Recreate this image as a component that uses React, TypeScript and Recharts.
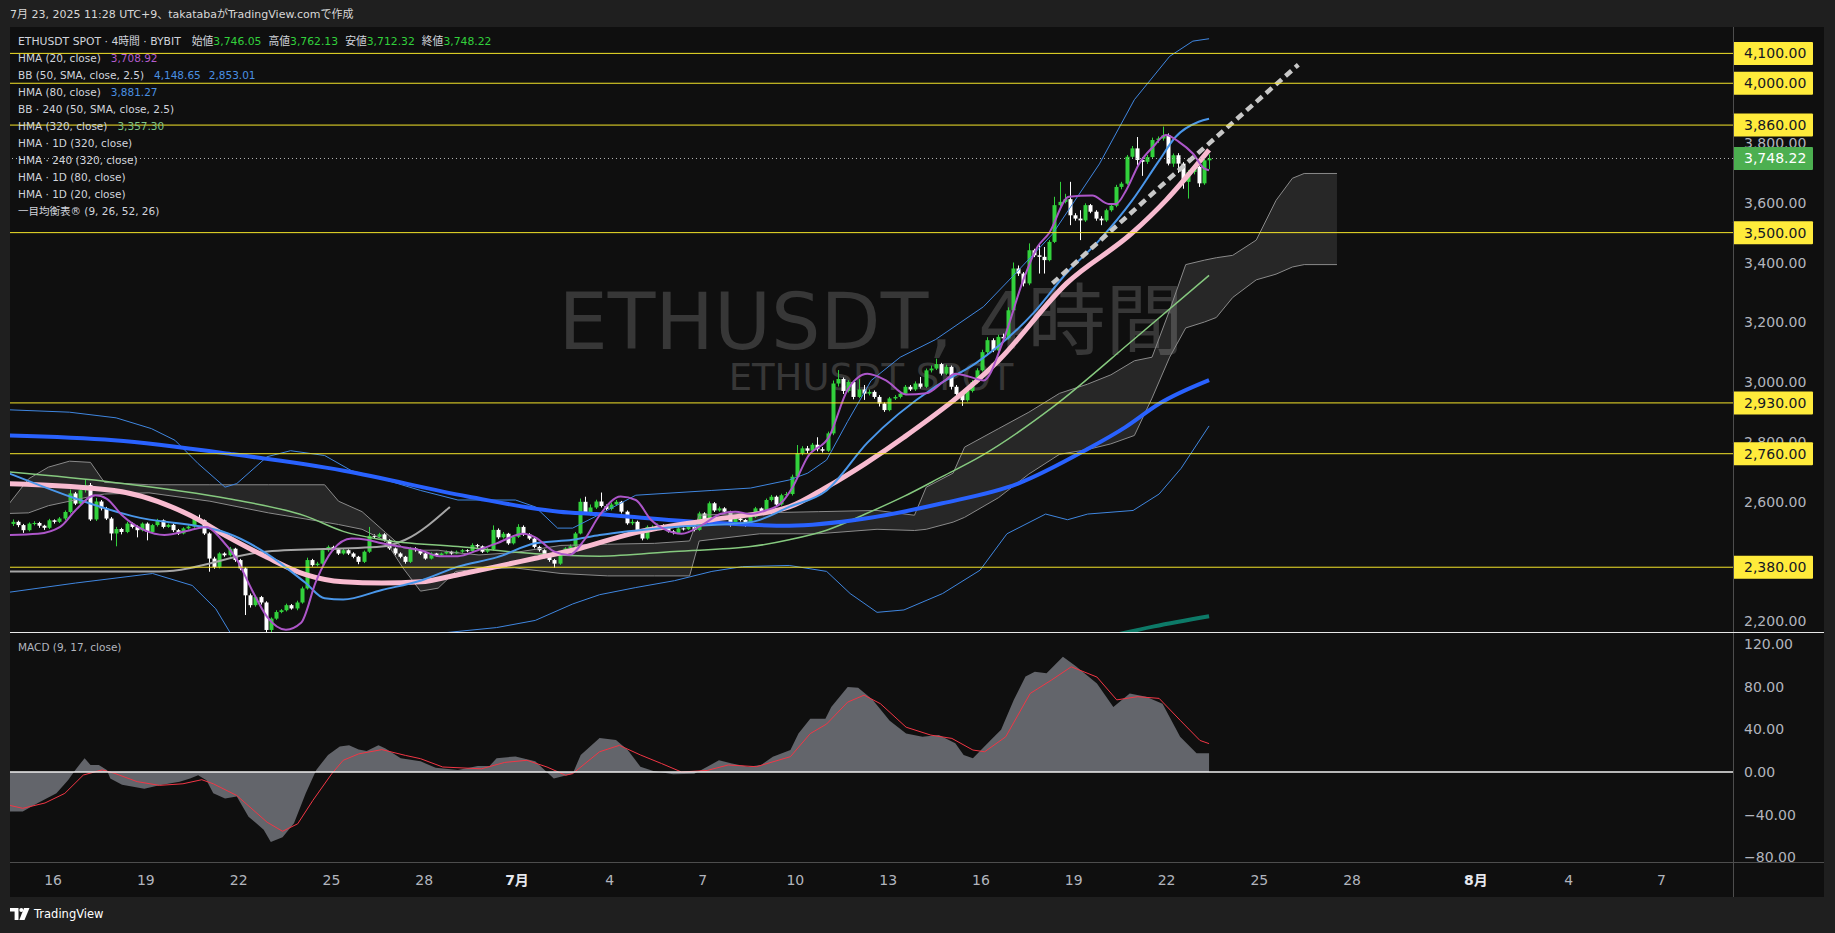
import React from "react"
import { Area, Bar, ComposedChart, Line, ReferenceLine, XAxis, YAxis } from "recharts"

const FONT = '"DejaVu Sans", "Noto Sans CJK JP", sans-serif'
const UP = "#32d13c"
const DOWN = "#ffffff"

// x is time in days from Jun 1 2025 (JST): Jun 16 = 15, Jul 1 = 30, Aug 1 = 61
const X_DOMAIN: [number, number] = [13.608, 69.314]
const PRICE_DOMAIN: [number, number] = [2163.2, 4188.3]
const MACD_DOMAIN: [number, number] = [-84.3, 131.2]

const dayTicks = [15, 18, 21, 24, 27, 30, 33, 36, 39, 42, 45, 48, 51, 54, 57, 61, 64, 67]
const dayLabels = ["16", "19", "22", "25", "28", "7月", "4", "7", "10", "13", "16", "19", "22", "25", "28", "8月", "4", "7"]
const priceTicks = [2200, 2400, 2600, 2800, 3000, 3200, 3400, 3600, 3800]
const macdTicks = [-80, -40, 0, 40, 80, 120]
const levels = [4100, 4000, 3860, 3500, 2930, 2760, 2380]
const lastPrice = 3748.22

// 4h candles, first bar Jun 14 17:00 JST, six bars a day
const firstBar = 13.708
const firstOpen = 2525
const closes = [
  2532, 2521,
  2504, 2526, 2528, 2519, 2512, 2537,
  2532, 2543, 2565, 2627, 2593, 2638,
  2655, 2540, 2600, 2577, 2543, 2493,
  2508, 2498, 2526, 2515, 2504, 2526,
  2498, 2521, 2537, 2515, 2522, 2504,
  2493, 2510, 2516, 2543, 2537, 2493,
  2409, 2381, 2426, 2420, 2442, 2404,
  2376, 2286, 2253, 2280, 2262, 2170,
  2208, 2230, 2236, 2253, 2242, 2262,
  2309, 2404, 2387, 2392, 2437, 2448,
  2440, 2426, 2437, 2426, 2415, 2398,
  2432, 2485, 2482, 2490, 2471, 2443,
  2426, 2415, 2398, 2443, 2437, 2426,
  2409, 2426, 2420, 2426, 2432, 2426,
  2432, 2437, 2434, 2454, 2450, 2432,
  2440, 2505, 2480, 2492, 2460, 2482,
  2515, 2490, 2476, 2448, 2437, 2415,
  2404, 2392, 2426, 2443, 2450, 2493,
  2599, 2560, 2580, 2600, 2585, 2575,
  2590, 2599, 2566, 2527, 2532, 2499,
  2476, 2515, 2515, 2520, 2510, 2500,
  2495, 2510, 2507, 2515, 2505, 2560,
  2540, 2594, 2570, 2577, 2566, 2521,
  2543, 2538, 2521, 2549, 2577, 2566,
  2605, 2616, 2590, 2621, 2625, 2683,
  2761, 2778, 2770, 2790, 2775, 2770,
  2828, 2995, 3010, 2970, 3000, 2950,
  2975, 2961, 2967, 2950, 2928, 2906,
  2945, 2950, 2961, 2984, 2975, 2995,
  2984, 3039, 3045, 3060, 3028, 3051,
  2984, 2960, 2939, 2970, 3000, 3039,
  3100, 3140, 3106, 3151, 3146, 3240,
  3380, 3363, 3330, 3441, 3424, 3419,
  3408, 3469, 3592, 3603, 3612, 3558,
  3547, 3541, 3592, 3570, 3547, 3541,
  3575, 3590, 3653, 3664, 3754, 3782,
  3743, 3737, 3753, 3810, 3815, 3826,
  3731, 3759, 3731, 3670, 3703, 3720,
  3665, 3742, 3748.22,
]
const highs = [
  2540, 2536,
  2525, 2530, 2534, 2532, 2522, 2542,
  2540, 2548, 2570, 2640, 2632, 2650,
  2675, 2662, 2612, 2605, 2582, 2548,
  2515, 2512, 2532, 2530, 2520, 2530,
  2530, 2525, 2542, 2540, 2526, 2526,
  2508, 2514, 2520, 2548, 2556, 2540,
  2497, 2415, 2430, 2430, 2448, 2445,
  2408, 2380, 2292, 2285, 2284, 2266,
  2212, 2236, 2240, 2258, 2257, 2268,
  2315, 2412, 2408, 2398, 2442, 2453,
  2452, 2444, 2442, 2440, 2430, 2418,
  2436, 2515, 2490, 2495, 2494, 2474,
  2446, 2430, 2418, 2448, 2447, 2440,
  2430, 2430, 2428, 2429, 2436, 2435,
  2436, 2441, 2440, 2460, 2458, 2453,
  2444, 2520, 2510, 2498, 2495, 2486,
  2524, 2520, 2494, 2480, 2452, 2440,
  2419, 2408, 2430, 2447, 2456, 2498,
  2610, 2616, 2590, 2606, 2630, 2590,
  2596, 2605, 2602, 2570, 2540, 2536,
  2502, 2520, 2520, 2526, 2524, 2514,
  2504, 2514, 2513, 2519, 2518, 2566,
  2564, 2600, 2598, 2583, 2581, 2569,
  2548, 2547, 2541, 2553, 2582, 2580,
  2610, 2622, 2620, 2626, 2632, 2690,
  2789, 2785, 2786, 2796, 2815, 2782,
  2834, 3005, 3040, 3015, 3006, 3004,
  3010, 2990, 2975, 2972, 2956, 2932,
  2950, 2956, 2966, 2990, 2990, 3002,
  3017, 3045, 3055, 3078, 3064, 3058,
  3055, 2990, 2966, 2976, 3006, 3046,
  3108, 3150, 3146, 3158, 3162, 3250,
  3400, 3390, 3368, 3464, 3446, 3464,
  3452, 3475, 3620, 3670, 3630, 3670,
  3565, 3575, 3598, 3596, 3575, 3555,
  3580, 3596, 3660, 3670, 3760, 3790,
  3820, 3752, 3760, 3818, 3822, 3855,
  3832, 3765, 3766, 3736, 3710, 3726,
  3724, 3760, 3762.13,
]
const lows = [
  2518, 2514,
  2495, 2500, 2520, 2512, 2505, 2508,
  2526, 2528, 2538, 2560, 2588, 2590,
  2630, 2535, 2535, 2570, 2538, 2470,
  2450, 2490, 2494, 2510, 2480, 2500,
  2470, 2494, 2516, 2510, 2512, 2498,
  2488, 2490, 2506, 2512, 2532, 2488,
  2365, 2375, 2376, 2415, 2416, 2398,
  2370, 2220, 2245, 2248, 2255, 2140,
  2160, 2204, 2226, 2232, 2238, 2236,
  2258, 2305, 2382, 2383, 2388, 2432,
  2436, 2421, 2422, 2421, 2410, 2390,
  2394, 2428, 2476, 2478, 2466, 2438,
  2420, 2410, 2392, 2394, 2432, 2421,
  2405, 2406, 2416, 2417, 2423, 2422,
  2424, 2428, 2430, 2431, 2445, 2428,
  2428, 2436, 2474, 2476, 2455, 2456,
  2478, 2485, 2471, 2443, 2432, 2410,
  2398, 2378, 2388, 2420, 2438, 2446,
  2490, 2555, 2552, 2575, 2580, 2570,
  2570, 2585, 2560, 2522, 2521, 2494,
  2470, 2472, 2510, 2512, 2506, 2496,
  2490, 2492, 2503, 2504, 2500, 2502,
  2535, 2536, 2565, 2566, 2561, 2516,
  2518, 2533, 2516, 2518, 2545, 2561,
  2562, 2600, 2585, 2586, 2615, 2620,
  2678, 2755, 2762, 2766, 2768, 2764,
  2766, 2822, 2985, 2960, 2965, 2942,
  2946, 2940, 2955, 2944, 2918, 2900,
  2902, 2940, 2945, 2956, 2970, 2970,
  2978, 2980, 3032, 3040, 3022, 3024,
  2975, 2950, 2920, 2934, 2965, 2995,
  3035, 3094, 3100, 3102, 3140, 3142,
  3235, 3355, 3320, 3324, 3418, 3363,
  3363, 3404, 3465, 3588, 3598, 3525,
  3540, 3475, 3536, 3565, 3540, 3525,
  3536, 3570, 3585, 3645, 3660, 3748,
  3726, 3690, 3730, 3748, 3800, 3808,
  3725, 3720, 3700, 3647, 3614, 3695,
  3653, 3660, 3712.32,
]

type Pt = [number, number]

const hma20: Pt[] = [
  [13.56, 2488], [14.51, 2492], [15.23, 2515], [15.72, 2570], [16.36, 2621], [16.74, 2609], [17.23, 2554],
  [17.95, 2504], [18.6, 2488], [19.43, 2504], [19.96, 2515], [20.45, 2472], [20.94, 2406], [21.43, 2304],
  [21.92, 2214], [22.53, 2171], [23.02, 2194], [23.51, 2335], [24.04, 2437], [24.65, 2476], [25.14, 2472],
  [25.63, 2460], [26.24, 2449], [26.88, 2437], [27.49, 2417], [28.09, 2417], [28.73, 2437], [29.34, 2460],
  [30.21, 2492], [30.59, 2480], [31.19, 2433], [31.69, 2421], [32.18, 2472], [32.67, 2554], [33.35, 2617],
  [33.84, 2605], [34.33, 2539], [34.83, 2504], [35.32, 2492], [36.07, 2527], [36.57, 2558], [37.06, 2566],
  [37.55, 2558], [38.04, 2570], [38.53, 2594], [38.91, 2648], [39.4, 2750], [40.09, 2817], [40.69, 2974],
  [41.33, 3028], [41.94, 3005], [42.58, 2958], [43.23, 2962], [43.83, 3005], [44.17, 3028], [44.78, 3013],
  [45.08, 3005], [45.72, 3138], [46.37, 3342], [46.82, 3451], [47.2, 3498], [47.84, 3620], [48.6, 3624],
  [49.13, 3596], [49.36, 3596], [49.7, 3643], [50.11, 3730], [50.57, 3788], [50.98, 3827], [51.4, 3804],
  [51.85, 3765], [52.23, 3714], [52.375, 3709],
]
const hma80: Pt[] = [
  [13.56, 2695], [17.57, 2551], [20.68, 2492], [21.92, 2425], [23.17, 2327], [23.78, 2276], [24.38, 2272],
  [25.63, 2304], [26.88, 2335], [28.09, 2382], [29.34, 2413], [30.59, 2460], [31.8, 2472], [32.67, 2488],
  [35.09, 2515], [37.55, 2531], [38.8, 2582], [40.01, 2637], [41.33, 2797], [43.53, 2985], [44.85, 3064],
  [46.67, 3228], [47.77, 3365], [48.83, 3475], [49.89, 3608], [50.76, 3741], [51.29, 3820], [52.04, 3871],
  [52.375, 3881],
]
const hma320: Pt[] = [
  [13.56, 2699], [16.97, 2664], [20.68, 2609], [23.17, 2551], [24.38, 2500], [25.63, 2472], [28.09, 2449],
  [30.59, 2425], [32.67, 2417], [35.09, 2433], [37.55, 2449], [38.8, 2472], [40.01, 2504], [41.26, 2558],
  [42.51, 2617], [43.76, 2684], [44.97, 2750], [47.31, 2915], [49.89, 3138], [52.375, 3357],
]
const hma240x320: Pt[] = [
  [13.56, 2660], [16.97, 2637], [19.43, 2554], [20.68, 2480], [21.92, 2413], [23.17, 2355], [24.38, 2331],
  [25.63, 2327], [26.88, 2331], [28.09, 2355], [29.34, 2382], [30.59, 2410], [31.8, 2437], [33.84, 2496],
  [36.3, 2539], [38.8, 2582], [40.01, 2648], [41.26, 2727], [42.51, 2815], [45.57, 3072], [47.77, 3330],
  [49.88, 3498], [50.98, 3608], [52.375, 3777],
]
const hma1d80: Pt[] = [
  [13.56, 2821], [16.97, 2805], [20.83, 2758], [24.4, 2703], [28.4, 2617], [31.36, 2566], [32.55, 2558],
  [35.96, 2531], [38.8, 2519], [41.26, 2543], [43.75, 2594], [46.2, 2660], [48.42, 2774], [49.66, 2848],
  [50.76, 2927], [52.375, 3006],
]
const hma1d320: Pt[] = [[49.2, 2150], [50.6, 2182], [52.375, 2216]]
const hma1d20a: Pt[] = [[13.56, 2366], [18.44, 2366], [21.92, 2433], [25.63, 2449], [26.39, 2472], [27.83, 2582]]
const hma1d20b: Pt[] = [[47.31, 3330], [51.1, 3682], [55.26, 4062]]
const bbUpper: Pt[] = [
  [13.56, 2907], [15.53, 2899], [17.04, 2880], [18.18, 2844], [18.94, 2805], [19.69, 2727], [20.56, 2648],
  [20.94, 2660], [21.92, 2750], [22.68, 2770], [23.78, 2754], [24.65, 2703], [25.63, 2676], [26.88, 2637],
  [28.09, 2605], [29.95, 2605], [30.59, 2582], [31.31, 2511], [31.8, 2511], [32.56, 2551], [33.84, 2621],
  [36.3, 2637], [37.55, 2645], [38.8, 2672], [39.4, 2695], [40.01, 2739], [40.69, 2868], [41.45, 3005],
  [42.39, 3083], [43.53, 3142], [45.08, 3252], [46.03, 3354], [47.31, 3495], [48.83, 3730], [49.96, 3945],
  [51.1, 4090], [51.85, 4141], [52.375, 4149],
]
const bbLower: Pt[] = [
  [13.56, 2296], [15.72, 2327], [18.22, 2359], [19.5, 2319], [20.26, 2241], [20.83, 2143], [21.6, 2040],
  [23.5, 1960], [25.8, 1990], [27.49, 2159], [29.34, 2178], [30.59, 2202], [31.8, 2257], [32.67, 2288],
  [33.84, 2312], [35.09, 2335], [36.3, 2366], [37.29, 2382], [38.8, 2386], [40.01, 2366], [40.77, 2292],
  [41.64, 2229], [42.51, 2237], [43.76, 2292], [44.97, 2370], [45.84, 2492], [47.09, 2558], [47.8, 2539],
  [48.45, 2558], [49.92, 2570], [50.76, 2625], [51.47, 2711], [52.375, 2853],
]
// ichimoku cloud: day, lower edge, upper edge
const cloud: [number, number, number][] = [
  [13.56, 2560, 2590], [14.21, 2562, 2676], [14.85, 2586, 2715], [15.53, 2601, 2735], [16.21, 2617, 2731],
  [16.66, 2625, 2664], [18.1, 2629, 2656], [20.07, 2601, 2656], [21.96, 2562, 2656], [23.78, 2531, 2656],
  [24.23, 2523, 2601], [24.99, 2507, 2566], [25.75, 2468, 2496], [26.31, 2378, 2445], [26.88, 2300, 2437],
  [27.45, 2310, 2437], [28.02, 2366, 2429], [28.77, 2374, 2421], [29.91, 2378, 2429], [31.42, 2359, 2453],
  [32.93, 2351, 2457], [34.45, 2351, 2460], [35.58, 2351, 2468], [35.89, 2468, 2554], [37.85, 2492, 2562],
  [39.74, 2492, 2566], [41.64, 2507, 2570], [42.85, 2503, 2554], [43.23, 2507, 2648], [44.1, 2531, 2695],
  [44.47, 2547, 2782], [45.57, 2613, 2844], [46.55, 2692, 2899], [47.54, 2758, 2962], [48.45, 2774, 2993],
  [49.2, 2793, 3024], [49.96, 2821, 3071], [50.53, 2946, 3083], [51.1, 3083, 3240], [51.62, 3181, 3393],
  [52.23, 3201, 3408], [52.61, 3216, 3416], [53.14, 3283, 3424], [53.9, 3342, 3475], [54.54, 3361, 3608],
  [55.07, 3385, 3682], [55.45, 3393, 3698], [56.51, 3393, 3698],
]
const macd: Pt[] = [
  [13.56, -37], [14.02, -37], [14.51, -29], [15.11, -20], [15.49, -7.5], [15.72, 2], [16.02, 13], [16.21, 6.6],
  [16.48, 6.6], [16.74, 2], [16.85, -6], [17.23, -12], [17.95, -15.6], [18.44, -12.5], [19.09, -9], [19.43, -6],
  [19.69, -3], [19.96, -7.8], [20.18, -20], [20.56, -24.7], [20.94, -23], [21.32, -41.8], [21.81, -54],
  [22.04, -65.6], [22.42, -61], [22.79, -48], [23.17, -20], [23.51, 2], [23.89, 16], [24.27, 24], [24.57, 25],
  [24.88, 21], [25.14, 19.6], [25.52, 25], [25.75, 22], [26.24, 13], [26.88, 10], [27.37, 4], [28.09, 2],
  [28.73, 5.6], [29.11, 5.6], [29.34, 13], [29.95, 14.6], [30.59, 10], [31.19, -6], [31.8, -1.5], [32.06, 16],
  [32.67, 31.8], [33.2, 30], [33.58, 20.6], [33.99, 5], [34.41, 1], [35.05, -2], [35.73, -1.5], [36.15, 5],
  [36.53, 11], [36.95, 8], [37.47, 5], [37.89, 6.6], [38.27, 14.4], [38.84, 20.6], [39.1, 36], [39.48, 50],
  [39.97, 50], [40.16, 61], [40.69, 79.6], [41.03, 79], [41.49, 68], [42.05, 48], [42.58, 36], [43.11, 33],
  [43.64, 34.6], [44.17, 27], [44.44, 16], [44.74, 13], [45.27, 28.7], [45.65, 39.6], [46.06, 67.6],
  [46.44, 89.5], [46.74, 94], [47.12, 92.5], [47.65, 108], [48.07, 99], [48.75, 83], [49.28, 61],
  [49.81, 73.6], [50.34, 70.6], [50.87, 64], [51.44, 33], [51.97, 17.7], [52.375, 17.7],
]
const signal: Pt[] = [
  [13.56, -31], [14.02, -34], [14.74, -29], [15.38, -20], [15.98, -2.8], [16.59, 2], [16.97, -1], [17.72, -9],
  [18.44, -12.5], [19.2, -11], [19.81, -7.2], [20.18, -11], [20.94, -22], [21.92, -47], [22.42, -55.5],
  [22.91, -48.5], [23.4, -26.6], [24.01, -1.6], [24.38, 11], [24.88, 17], [25.63, 21], [26.39, 15.6],
  [26.88, 12.5], [27.6, 4.7], [28.85, 3], [29.6, 9], [30.32, 11], [30.97, 4.7], [31.57, -3], [31.8, -1.5],
  [32.67, 19], [33.31, 25], [33.99, 16], [34.67, 8], [35.32, 0], [36.15, 1.5], [36.83, 6.6], [37.74, 5],
  [38.84, 14.4], [39.48, 36], [40.01, 45], [40.69, 65.5], [41.22, 72], [41.75, 64], [42.58, 42], [43.38, 34.6],
  [44.06, 31.5], [44.74, 20.6], [45.12, 19], [45.8, 33], [46.59, 73.6], [47.27, 86], [47.92, 98.6], [48.75, 89],
  [49.39, 67.6], [50.07, 70.6], [50.76, 69], [51.44, 48.5], [52.08, 29.6], [52.375, 26.6],
]

const candles = closes.map((c, i) => {
  const o = i === 0 ? firstOpen : closes[i - 1]
  return { d: firstBar + i / 6, o, c, h: highs[i], l: lows[i], range: [lows[i], highs[i]] }
})
const rows = (pts: Pt[]) => pts.map(([d, v]) => ({ d, v }))
const cloudRows = cloud.map(([d, lo, hi]) => ({ d, lo, hi, band: [lo, hi] }))

const fmt = (v: number) => v.toLocaleString("en-US", { minimumFractionDigits: 2, maximumFractionDigits: 2 })
const fmtSigned = (v: number) => (v < 0 ? "\u2212" + fmt(-v) : fmt(v))

function Candle(props: any) {
  const { x, y, width, height, payload } = props
  if (!payload || height == null || isNaN(y)) return null
  const { o, c, h, l } = payload
  const span = h - l || 1
  const py = (v: number) => y + ((h - v) / span) * height
  const cx = Math.round(x + width / 2)
  const color = c >= o ? UP : DOWN
  const top = py(Math.max(o, c))
  const bot = py(Math.min(o, c))
  return (
    <g>
      <line x1={cx + 0.5} x2={cx + 0.5} y1={y} y2={y + height} stroke={color} strokeWidth={1} />
      <rect x={cx - 1.5} y={top} width={4} height={Math.max(1, bot - top)} fill={color} />
    </g>
  )
}

function PriceTag(props: any) {
  const { viewBox, text, bg, fg } = props
  if (!viewBox) return null
  const left = viewBox.x + viewBox.width
  const y = viewBox.y
  return (
    <g>
      <rect x={left} y={y - 11.5} width={80} height={23} fill={bg} rx={1} />
      <text x={left + 11} y={y + 5} fill={fg} fontSize={14} fontFamily={FONT}>{text}</text>
    </g>
  )
}

function PriceTick(props: any) {
  const { x, y, payload } = props
  return (
    <text x={x} y={y} dy={5} fill="#b2b5be" fontSize={14} fontFamily={FONT} textAnchor="start">
      {fmt(payload.value)}
    </text>
  )
}

function MacdTick(props: any) {
  const { x, y, payload } = props
  return (
    <text x={x} y={y} dy={5} fill="#b2b5be" fontSize={14} fontFamily={FONT} textAnchor="start">
      {fmtSigned(payload.value)}
    </text>
  )
}

function DayTick(props: any) {
  const { x, y, payload } = props
  const label = dayLabels[dayTicks.indexOf(payload.value)] ?? ""
  const month = label.endsWith("月")
  return (
    <text x={x} y={y + 23} textAnchor="middle" fill={month ? "#e6e8ee" : "#b2b5be"} fontWeight={month ? 700 : 400} fontSize={14} fontFamily={FONT}>
      {label}
    </text>
  )
}

const line = (data: Pt[], stroke: string, width: number, type: "monotone" | "linear" = "monotone", dash?: string) => (
  <Line
    data={rows(data)}
    dataKey="v"
    type={type}
    stroke={stroke}
    strokeWidth={width}
    strokeDasharray={dash}
    dot={false}
    activeDot={false}
    isAnimationActive={false}
  />
)

const legendRows: { label: string; values: { text: string; color: string }[] }[] = [
  { label: "HMA (20, close)", values: [{ text: "3,708.92", color: "#b35ccc" }] },
  { label: "BB (50, SMA, close, 2.5)", values: [{ text: "4,148.65", color: "#4a90e2" }, { text: "2,853.01", color: "#4a90e2" }] },
  { label: "HMA (80, close)", values: [{ text: "3,881.27", color: "#4a90e2" }] },
  { label: "BB · 240 (50, SMA, close, 2.5)", values: [] },
  { label: "HMA (320, close)", values: [{ text: "3,357.30", color: "#81c784" }] },
  { label: "HMA · 1D (320, close)", values: [] },
  { label: "HMA · 240 (320, close)", values: [] },
  { label: "HMA · 1D (80, close)", values: [] },
  { label: "HMA · 1D (20, close)", values: [] },
  { label: "一目均衡表® (9, 26, 52, 26)", values: [] },
]
const ohlc = [
  ["始値", "3,746.05"],
  ["高値", "3,762.13"],
  ["安値", "3,712.32"],
  ["終値", "3,748.22"],
]

const noMargin = { top: 0, right: 0, bottom: 0, left: 0 }

export default function App() {
  const abs = (s: React.CSSProperties): React.CSSProperties => ({ position: "absolute", ...s })
  return (
    <div style={abs({ left: 0, top: 0, width: 1835, height: 933, background: "#1f1f1f", overflow: "hidden", fontFamily: FONT })}>
      <div style={abs({ left: 10, top: 6, fontSize: 11, color: "#d8d8d8", whiteSpace: "nowrap", lineHeight: "18px" })}>
        7月 23, 2025 11:28 UTC+9、takatabaがTradingView.comで作成
      </div>

      <div style={abs({ left: 10, top: 27, width: 1814, height: 870, background: "#0f0f0f" })} />

      <svg style={abs({ left: 0, top: 0 })} width={1835} height={933}>
        <text x={871} y={349} textAnchor="middle" fontSize={78} fontFamily={FONT} fill="#373737">ETHUSDT, 4時間</text>
        <text x={871} y={390} textAnchor="middle" fontSize={37} fontFamily={FONT} fill="#373737">ETHUSDT SPOT</text>
      </svg>

      {/* price pane */}
      <div style={abs({ left: 10, top: 27 })}>
        <ComposedChart width={1814} height={605} data={candles} margin={noMargin}>
          <XAxis type="number" dataKey="d" domain={X_DOMAIN} allowDataOverflow hide />
          <YAxis
            orientation="right"
            domain={PRICE_DOMAIN}
            allowDataOverflow
            ticks={priceTicks}
            interval={0}
            width={91}
            axisLine={false}
            tickLine={false}
            tickSize={0}
            tickMargin={11}
            tick={(p: any) => <PriceTick {...p} />}
          />
          <Area data={cloudRows} dataKey="band" type="linear" stroke="none" fill="#ffffff" fillOpacity={0.1} isAnimationActive={false} activeDot={false} />
          <Line data={cloudRows} dataKey="hi" type="linear" stroke="#8a8a8a" strokeWidth={1} dot={false} activeDot={false} isAnimationActive={false} />
          <Line data={cloudRows} dataKey="lo" type="linear" stroke="#8a8a8a" strokeWidth={1} dot={false} activeDot={false} isAnimationActive={false} />
          <Bar dataKey="range" barSize={4} shape={(p: any) => <Candle {...p} />} isAnimationActive={false} />
          {line(bbUpper, "#3f86e0", 1, "linear")}
          {line(bbLower, "#3f86e0", 1, "linear")}
          {line(hma1d20a, "#a6a6a6", 2)}
          {line(hma320, "#86c97f", 1.5)}
          {line(hma1d80, "#2962ff", 4)}
          {line(hma1d320, "#0d7a68", 4)}
          {line(hma240x320, "#f8bbd0", 5)}
          {line(hma80, "#4a97ea", 2)}
          {line(hma20, "#ad56c9", 2)}
          {line(hma1d20b, "#c8c8c8", 4.5, "linear", "8 5")}
        </ComposedChart>
      </div>

      {/* horizontal levels and price tags, above the axis labels */}
      <div style={abs({ left: 10, top: 27 })}>
        <ComposedChart width={1814} height={605} data={candles} margin={noMargin}>
          <XAxis type="number" dataKey="d" domain={X_DOMAIN} allowDataOverflow hide />
          <YAxis orientation="right" domain={PRICE_DOMAIN} allowDataOverflow width={91} tick={false} axisLine={false} tickLine={false} />
          {levels.map((lv) => (
            <ReferenceLine key={lv} y={lv} stroke="#f5e52a" strokeWidth={1} label={<PriceTag text={fmt(lv)} bg="#ffeb3b" fg="#131722" />} />
          ))}
          <ReferenceLine y={lastPrice} stroke="#b8b8b8" strokeDasharray="1 3" label={<PriceTag text={fmt(lastPrice)} bg="#4caf50" fg="#ffffff" />} />
        </ComposedChart>
      </div>

      {/* MACD pane + time axis */}
      <div style={abs({ left: 10, top: 632 })}>
        <ComposedChart width={1814} height={265} data={rows(macd)} margin={noMargin}>
          <XAxis
            type="number"
            dataKey="d"
            domain={X_DOMAIN}
            allowDataOverflow
            ticks={dayTicks}
            interval={0}
            height={35}
            axisLine={false}
            tickLine={false}
            tickSize={0}
            tickMargin={0}
            tick={(p: any) => <DayTick {...p} />}
          />
          <YAxis
            orientation="right"
            domain={MACD_DOMAIN}
            allowDataOverflow
            ticks={macdTicks}
            interval={0}
            width={91}
            axisLine={false}
            tickLine={false}
            tickSize={0}
            tickMargin={11}
            tick={(p: any) => <MacdTick {...p} />}
          />
          <Area dataKey="v" type="linear" baseValue={0} stroke="none" fill="#63656b" fillOpacity={1} isAnimationActive={false} activeDot={false} />
          {line(signal, "#f23645", 1, "linear")}
          <ReferenceLine y={0} stroke="#f0f0f0" strokeWidth={1.5} />
        </ComposedChart>
      </div>

      <div style={abs({ left: 1733, top: 27, width: 1, height: 870, background: "#4d4d4d" })} />
      <div style={abs({ left: 10, top: 862, width: 1814, height: 1, background: "#4d4d4d" })} />
      <div style={abs({ left: 10, top: 632, width: 1814, height: 1, background: "#e8e8e8" })} />

      <div style={abs({ left: 18, top: 33, whiteSpace: "nowrap", lineHeight: "17px", color: "#d1d4dc" })}>
        <div style={{ fontSize: 10.8 }}>
          <span>ETHUSDT SPOT · 4時間 · BYBIT</span>
          {ohlc.map(([k, v], i) => (
            <span key={k} style={{ marginLeft: i === 0 ? 11 : 7 }}>
              {k}
              <span style={{ color: UP }}>{v}</span>
            </span>
          ))}
        </div>
        {legendRows.map((r) => (
          <div key={r.label} style={{ fontSize: 10.5 }}>
            <span>{r.label}</span>
            {r.values.map((v, i) => (
              <span key={i} style={{ marginLeft: i === 0 ? 10 : 8, color: v.color }}>{v.text}</span>
            ))}
          </div>
        ))}
      </div>

      <div style={abs({ left: 18, top: 639, fontSize: 10.5, color: "#b2b5be", whiteSpace: "nowrap", lineHeight: "17px" })}>
        MACD (9, 17, close)
      </div>

      <div style={abs({ left: 10, top: 906, display: "flex", alignItems: "center", gap: 4, color: "#ffffff" })}>
        <svg width={20} height={12}>
          <path d="M0 0h8.5v12H4.6V3.6H0z" fill="#ffffff" />
          <circle cx={11.3} cy={2} r={2} fill="#ffffff" />
          <path d="M14 0h5.5l-5 12h-5.2z" fill="#ffffff" />
        </svg>
        <span style={{ fontSize: 11.5, lineHeight: "16px" }}>TradingView</span>
      </div>
    </div>
  )
}
